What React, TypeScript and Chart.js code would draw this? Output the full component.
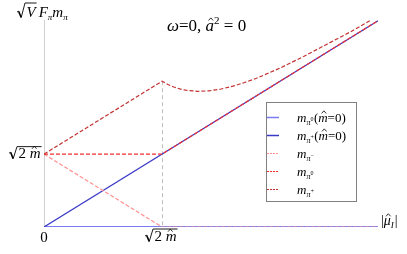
import React, { useEffect, useRef } from "react";
import { Chart, registerables } from "chart.js";

Chart.register(...registerables);

// x in units of sqrt(2) m-hat (|mu_I|), y in same units
const xFlat = [0, 2.83];
const yPi0Chiral = [0, 0];
const yPiPlusChiral = [0, 2.83];
const xPiMinus = [0, 1, 2.83];
const yPiMinus = [1, 0, 0];
const xPi0 = [0, 1, 2.83];
const yPi0 = [1, 1, 2.83];
const xPiPlus = [0, 1, 1.05, 1.1, 1.15, 1.2, 1.3, 1.4, 1.5, 1.6, 1.7, 1.8, 2.0, 2.2, 2.4, 2.6, 2.76];
const yPiPlus = [1, 2, 1.955, 1.92, 1.895, 1.877, 1.861, 1.868, 1.893, 1.932, 1.982, 2.04, 2.18, 2.34, 2.51, 2.68, 2.83];
const breakMu = 1;

const C_LBLUE = "#7a7af2";
const C_BLUE = "#3a3ac8";
const C_PINK = "#ff9090";
const C_RED = "#f03030";
const C_DRED = "#c23030";

const SERIF = '"Liberation Serif", "Times New Roman", serif';

type Seg = { t: string; it?: boolean; size: number; dy?: number; hat?: boolean; dx?: number };

function font(s: Seg) {
  return `${s.it ? "italic " : ""}${s.size}px ${SERIF}`;
}

function drawRun(ctx: CanvasRenderingContext2D, segs: Seg[], x: number, y: number) {
  let cx = x;
  ctx.textBaseline = "alphabetic";
  ctx.textAlign = "left";
  for (const s of segs) {
    cx += s.dx || 0;
    ctx.font = font(s);
    ctx.fillText(s.t, cx, y + (s.dy || 0));
    const w = ctx.measureText(s.t).width;
    if (s.hat) {
      const mx = cx + w / 2 + (s.it ? 1 : 0);
      const top = y + (s.dy || 0) - s.size * 0.62;
      ctx.beginPath();
      ctx.lineWidth = 0.8;
      ctx.moveTo(mx - 2.3, top);
      ctx.lineTo(mx, top - 2.6);
      ctx.lineTo(mx + 2.3, top);
      ctx.stroke();
    }
    cx += w;
  }
  return cx;
}

function measureRun(ctx: CanvasRenderingContext2D, segs: Seg[]) {
  let w = 0;
  for (const s of segs) {
    ctx.font = font(s);
    w += ctx.measureText(s.t).width + (s.dx || 0);
  }
  return w;
}

function drawRadical(ctx: CanvasRenderingContext2D, x: number, base: number, top: number, segs: Seg[]) {
  ctx.save();
  ctx.strokeStyle = "#000";
  ctx.fillStyle = "#000";
  const w = measureRun(ctx, segs);
  ctx.lineWidth = 0.9;
  ctx.beginPath();
  ctx.moveTo(x, base - 5);
  ctx.lineTo(x + 1.6, base - 5.8);
  ctx.stroke();
  ctx.lineWidth = 1.6;
  ctx.beginPath();
  ctx.moveTo(x + 1.6, base - 5.8);
  ctx.lineTo(x + 4.2, base + 0.5);
  ctx.stroke();
  ctx.lineWidth = 0.9;
  ctx.beginPath();
  ctx.moveTo(x + 4.2, base + 0.5);
  ctx.lineTo(x + 8, top);
  ctx.lineTo(x + 9.5 + w + 1, top);
  ctx.stroke();
  const end = drawRun(ctx, segs, x + 9.5, base);
  ctx.restore();
  return end;
}

const decoPlugin = {
  id: "deco",
  beforeDatasetsDraw(chart: any) {
    const ctx = chart.ctx as CanvasRenderingContext2D;
    const xs = chart.scales.x;
    const ys = chart.scales.y;
    const x0 = xs.getPixelForValue(0);
    ctx.save();
    // y axis line
    ctx.strokeStyle = "#d0d0d0";
    ctx.lineWidth = 1;
    ctx.beginPath();
    ctx.moveTo(Math.round(x0) + 0.5, ys.getPixelForValue(ys.max));
    ctx.lineTo(Math.round(x0) + 0.5, ys.getPixelForValue(0));
    ctx.stroke();
    // vertical dashed at break
    const xb = Math.round(xs.getPixelForValue(breakMu)) + 0.5;
    ctx.strokeStyle = "#bdbdbd";
    ctx.setLineDash([4, 3]);
    ctx.beginPath();
    ctx.moveTo(xb, ys.getPixelForValue(yPiPlus[1]));
    ctx.lineTo(xb, ys.getPixelForValue(0));
    ctx.stroke();
    ctx.restore();
  },
  afterDraw(chart: any) {
    const ctx = chart.ctx as CanvasRenderingContext2D;
    const xs = chart.scales.x;
    const ys = chart.scales.y;
    ctx.save();
    ctx.fillStyle = "#000";
    ctx.strokeStyle = "#000";

    // y label sqrt(V) F_pi m_pi
    const endV = drawRadical(ctx, 17, 17, 3, [{ t: "V", it: true, size: 15 }]);
    drawRun(
      ctx,
      [
        { t: "F", it: true, size: 15, dx: 2 },
        { t: "π", it: true, size: 9, dy: 3 },
        { t: "m", it: true, size: 15 },
        { t: "π", it: true, size: 9, dy: 3 },
      ],
      endV + 1,
      17
    );

    // title
    drawRun(
      ctx,
      [
        { t: "ω", it: true, size: 17 },
        { t: "=0, ", size: 17 },
        { t: "a", it: true, size: 17, hat: true },
        { t: "2", size: 11, dy: -7 },
        { t: " = 0", size: 17 },
      ],
      167,
      31
    );

    // y tick sqrt(2) m-hat
    const yb = ys.getPixelForValue(1);
    drawRadical(ctx, 9, yb + 4, yb - 7.5, [
      { t: "2", size: 15 },
      { t: " m", it: true, size: 15, hat: true },
    ]);

    // x ticks
    const x0 = xs.getPixelForValue(0);
    ctx.font = `15px ${SERIF}`;
    ctx.textAlign = "center";
    ctx.fillText("0", x0, 242);
    const xb = xs.getPixelForValue(breakMu);
    drawRadical(ctx, xb - 17, 241, 229, [
      { t: "2", size: 15 },
      { t: " m", it: true, size: 15, hat: true },
    ]);

    // x label |mu_I|
    drawRun(
      ctx,
      [
        { t: "|", size: 14 },
        { t: "μ", it: true, size: 14, hat: true },
        { t: "I", it: true, size: 9, dy: 3 },
        { t: "|", size: 14, dx: 1 },
      ],
      381,
      225
    );

    // legend
    const bx = 266.5, by = 102.5, bw = 90, bh = 99;
    ctx.strokeStyle = "#808080";
    ctx.lineWidth = 1;
    ctx.setLineDash([]);
    ctx.strokeRect(bx, by, bw, bh);
    const entries: { color: string; dash: number[]; sup: string; chiral: boolean }[] = [
      { color: C_LBLUE, dash: [], sup: "0", chiral: true },
      { color: C_BLUE, dash: [], sup: "+", chiral: true },
      { color: C_PINK, dash: [2, 1], sup: "−", chiral: false },
      { color: C_RED, dash: [2, 1], sup: "0", chiral: false },
      { color: C_DRED, dash: [2, 1], sup: "+", chiral: false },
    ];
    entries.forEach((e, i) => {
      const cy = 117.5 + i * 18;
      ctx.save();
      ctx.strokeStyle = e.color;
      ctx.lineWidth = e.dash.length ? 1 : 1.5;
      ctx.setLineDash(e.dash);
      ctx.beginPath();
      ctx.moveTo(267, cy);
      ctx.lineTo(279, cy);
      ctx.stroke();
      ctx.restore();
      ctx.fillStyle = "#000";
      ctx.strokeStyle = "#000";
      const segs: Seg[] = [
        { t: "m", it: true, size: 13 },
        { t: "π", it: true, size: 8, dy: 3 },
        { t: e.sup, size: 6, dy: -1 },
      ];
      if (e.chiral) {
        segs.push({ t: "(", size: 13, dx: 0.5 });
        segs.push({ t: "m", it: true, size: 13, hat: true });
        segs.push({ t: "=0)", size: 13 });
      }
      drawRun(ctx, segs, 297, cy + 4);
    });
    ctx.restore();
  },
};

function pts(xa: number[], ya: number[]) {
  return xa.map((x, i) => ({ x, y: ya[i] }));
}

export default function App() {
  const ref = useRef<HTMLCanvasElement | null>(null);
  useEffect(() => {
    document.body.style.margin = "0";
    const canvas = ref.current!;
    const chart = new Chart(canvas, {
      type: "line",
      data: {
        datasets: [
          { label: "mπ+", data: pts(xPiPlus, yPiPlus), borderColor: C_DRED, borderDash: [4, 2], borderWidth: 1.2, pointRadius: 0, tension: 0 },
          { label: "mπ0", data: pts(xPi0, yPi0), borderColor: C_RED, borderDash: [4, 2], borderWidth: 1.2, pointRadius: 0 },
          { label: "mπ-", data: pts(xPiMinus, yPiMinus), borderColor: C_PINK, borderDash: [4, 2], borderWidth: 1.2, pointRadius: 0 },
          { label: "mπ+(m=0)", data: pts(xFlat, yPiPlusChiral), borderColor: C_BLUE, borderWidth: 1.2, pointRadius: 0 },
          { label: "mπ0(m=0)", data: pts(xFlat, yPi0Chiral), borderColor: C_LBLUE, borderWidth: 2, pointRadius: 0 },
        ],
      },
      options: {
        responsive: false,
        animation: false,
        devicePixelRatio: 1,
        layout: { padding: { left: 44, right: 29, top: 20, bottom: 27 } },
        plugins: { legend: { display: false }, tooltip: { enabled: false }, title: { display: false } },
        scales: {
          x: { type: "linear", min: 0, max: 2.83, display: false },
          y: { type: "linear", min: 0, max: 2.84, display: false },
        },
        elements: { line: { fill: false } },
      },
      plugins: [decoPlugin],
    } as any);
    return () => chart.destroy();
  }, []);
  return (
    <div style={{ position: "absolute", left: 0, top: 0, width: 407, height: 254, background: "#fff" }}>
      <canvas ref={ref} width={407} height={254} style={{ width: 407, height: 254, display: "block" }} />
    </div>
  );
}
